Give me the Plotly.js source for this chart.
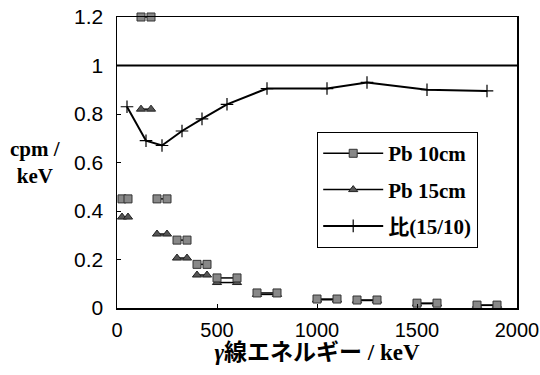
<!DOCTYPE html>
<html>
<head>
<meta charset="utf-8">
<script src="https://cdn.plot.ly/plotly-3.0.1.min.js"></script>
<style>html,body{margin:0;padding:0;background:#fff;}#chart{width:540px;height:375px;}</style>
</head>
<body>
<div id="chart"></div>
<script>
// Energy bins (keV): each measurement is a pair of points (low / high edge)
const binLow  = [25, 120, 200, 300, 400, 500, 700, 1000, 1200, 1500, 1800];
const binHigh = [55, 170, 250, 350, 450, 600, 800, 1100, 1300, 1600, 1900];
// count rates (cpm/keV)
const pb10 = [0.45, 1.2, 0.45, 0.28, 0.18, 0.124, 0.062, 0.037, 0.033, 0.020, 0.012];
const pb15 = [0.375, 0.82, 0.305, 0.206, 0.136, 0.105, 0.056, 0.034, 0.031, 0.018, 0.011];
// ratio 15cm / 10cm at bin centres
const ratioX = [50, 145, 225, 325, 425, 550, 750, 1050, 1250, 1550, 1850];
const ratio  = [0.83, 0.69, 0.67, 0.73, 0.78, 0.84, 0.905, 0.905, 0.93, 0.90, 0.895];
const xTicks = [0, 500, 1000, 1500, 2000];
const yTicks = [0, 0.2, 0.4, 0.6, 0.8, 1, 1.2];
const yTickText = ['0', '0.2', '0.4', '0.6', '0.8', '1', '1.2'];

function pairs(vals) {
  const xs = [], ys = [];
  vals.forEach((v, i) => {
    if (i > 0) { xs.push(null); ys.push(null); }
    xs.push(binLow[i], binHigh[i]);
    ys.push(v, v);
  });
  return {xs, ys};
}
const p10 = pairs(pb10), p15 = pairs(pb15);

const serif = '"Liberation Serif", "Noto Sans CJK JP", serif';
const sans = '"Liberation Sans", Arial, sans-serif';

const traces = [
  {x: p15.xs, y: p15.ys, name: 'Pb 15cm', mode: 'lines+markers', connectgaps: false,
   line: {color: '#000', width: 1.5}, legendrank: 2, legendgroup: 'b', cliponaxis: false,
   marker: {symbol: 'triangle-up', size: 8, color: '#555', line: {color: '#222', width: 1}}},
  {x: p10.xs, y: p10.ys, name: 'Pb 10cm', mode: 'lines+markers', connectgaps: false,
   line: {color: '#000', width: 1.5}, legendrank: 1, legendgroup: 'a', cliponaxis: false,
   marker: {symbol: 'square', size: 8, color: '#888', line: {color: '#333', width: 1}}},
  {x: ratioX, y: ratio, name: '比(15/10)', mode: 'lines+markers',
   line: {color: '#000', width: 2}, legendrank: 3, legendgroup: 'c',
   marker: {symbol: 'cross-thin', size: 9, color: '#000', line: {color: '#000', width: 1.2}}}
];

const layout = {
  width: 540, height: 375,
  margin: {l: 117, r: 23, t: 17, b: 67},
  paper_bgcolor: '#fff', plot_bgcolor: '#fff',
  showlegend: true,
  legend: {x: 0.5, y: 0.605, xanchor: 'left', yanchor: 'top',
    bgcolor: '#fff', bordercolor: '#000', borderwidth: 1.2,
    font: {family: serif, size: 21, color: '#000', weight: 'bold'},
    traceorder: 'grouped', tracegroupgap: 6, itemwidth: 60},
  xaxis: {range: [0, 2000], tickvals: xTicks, ticks: 'inside', ticklen: 4, tickcolor: '#000',
    showline: true, linecolor: '#000', linewidth: 1.5, mirror: true, showgrid: false, zeroline: false,
    tickfont: {family: sans, size: 20, color: '#000'}, ticklabelstandoff: 3,
    ticklabeloverflow: 'allow',
    title: {text: '<i>γ</i>線エネルギー / keV', font: {family: serif, size: 23, color: '#000', weight: 'bold'}, standoff: 2}},
  yaxis: {range: [0, 1.2], tickvals: yTicks, ticktext: yTickText, ticks: 'inside', ticklen: 4, tickcolor: '#000',
    showline: true, linecolor: '#000', linewidth: 1.5, mirror: true, showgrid: false, zeroline: false,
    tickfont: {family: sans, size: 21, color: '#000'}, ticklabelstandoff: 8},
  shapes: [
    {type: 'line', xref: 'paper', yref: 'y', x0: 0, x1: 1, y0: 1, y1: 1, line: {color: '#000', width: 1.8}}
  ],
  annotations: [
    {text: 'cpm /<br>keV', xref: 'paper', yref: 'paper', x: -0.205, y: 0.5, xanchor: 'center', yanchor: 'middle',
     showarrow: false, align: 'center', font: {family: serif, size: 21, color: '#000', weight: 'bold'}}
  ]
};

Plotly.newPlot('chart', traces, layout, {displayModeBar: false, staticPlot: true});
</script>
</body>
</html>
